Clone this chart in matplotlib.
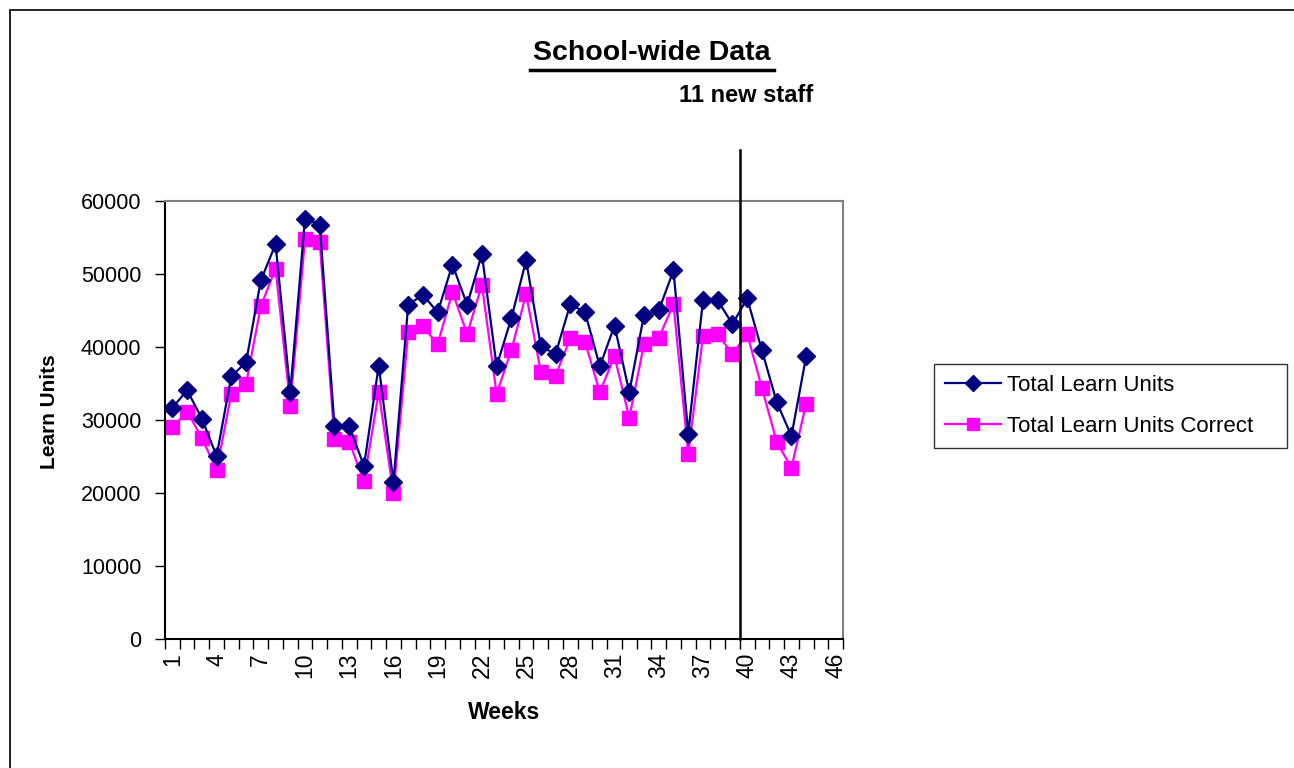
import matplotlib
matplotlib.use("Agg")
import matplotlib.pyplot as plt
from matplotlib.patches import Rectangle
from matplotlib.lines import Line2D

plt.rcParams['font.family'] = ['Liberation Sans', 'DejaVu Sans']

weeks = list(range(1, 45))
total_units = [31660, 34080, 30200, 25060, 35990, 37900, 49110, 54080, 33850, 57590,
               56770, 29160, 29160, 23690, 37450, 21500, 45790, 47150, 44740, 51300,
               45790, 52710, 37360, 43960, 51850, 40090, 39040, 45880, 44740, 37360,
               42920, 33800, 44420, 45010, 50480, 28110, 46380, 46380, 43140, 46650,
               39540, 32480, 27790, 38720]
correct_units = [28980, 31160, 27560, 23140, 33580, 34940, 45560, 50750, 31980, 54810,
                 54350, 27330, 27020, 21590, 33850, 19950, 42000, 42820, 40410, 47520,
                 41780, 48520, 33580, 39590, 47240, 36580, 36080, 41230, 40680, 33850,
                 38720, 30300, 40410, 41230, 45880, 25380, 41460, 41730, 39040, 41780,
                 34400, 27020, 23460, 32210]
tick_weeks = list(range(1, 47, 3))
n_categories = 46
staff_week = 39.5

W, H = 1294, 768
fig = plt.figure(figsize=(W / 100, H / 100), dpi=100)
ax = fig.add_axes([165 / W, 1 - 639 / H, (843 - 165) / W, (639 - 201) / H])

ax.plot(weeks, total_units, color='#000080', lw=1.6, marker='D', ms=9,
        label='Total Learn Units', zorder=3)
ax.plot(weeks, correct_units, color='#FF00FF', lw=1.6, marker='s', ms=9.5,
        label='Total Learn Units Correct', zorder=2)

ax.set_xlim(0.5, n_categories + 0.5)
ax.set_ylim(0, 60000)
ax.set_yticks(range(0, 60001, 10000))
ax.set_xticks([k + 0.5 for k in range(0, n_categories + 1)])
ax.set_xticklabels([])
ax.set_xticks(tick_weeks, minor=True)
ax.set_xticklabels([str(w) for w in tick_weeks], minor=True, rotation=90, fontsize=16.5)
ax.tick_params(axis='x', which='major', direction='out', length=7, width=1)
ax.tick_params(axis='x', which='minor', length=0, pad=10)
ax.tick_params(axis='y', direction='out', length=7, width=1, labelsize=15.5, pad=10)

for s in ['top', 'right']:
    ax.spines[s].set_color('#808080')
    ax.spines[s].set_linewidth(1.5)
for s in ['left', 'bottom']:
    ax.spines[s].set_color('black')
    ax.spines[s].set_linewidth(1.5)

ax.set_xlabel('Weeks', fontsize=16.5, fontweight='bold', labelpad=16)
ax.set_ylabel('Learn Units', fontsize=15, fontweight='bold')
ax.yaxis.set_label_coords(-0.156, 0.52)

# new staff marker line
ax.plot([staff_week, staff_week], [0, 67000], color='black', lw=1.8, clip_on=False, zorder=4)

fig.text(652 / W, 1 - 53 / H, 'School-wide Data', fontsize=20.5, fontweight='bold',
         ha='center', va='center')
fig.add_artist(Line2D([530 / W, 774 / W], [1 - 70 / H, 1 - 70 / H], color='black', lw=2.5))
fig.text(746 / W, 1 - 95 / H, '11 new staff', fontsize=17, fontweight='bold',
         ha='center', va='center')

leg = fig.legend(loc='upper left', bbox_to_anchor=(934 / W, 1 - 446 / H, 353 / W, 82 / H),
                 mode='expand', fontsize=16, frameon=True, fancybox=False,
                 edgecolor='black', borderpad=0.5, handlelength=2.5, handletextpad=0.3,
                 labelspacing=0.9, borderaxespad=0, markerscale=0.85)
leg.get_frame().set_linewidth(1)

# outer chart border
fig.add_artist(Rectangle((10 / W, -0.1), 1.2, 1 - 10 / H + 0.1, transform=fig.transFigure,
                         fill=False, edgecolor='black', lw=1.2))

fig.savefig('out.png', dpi=100)
